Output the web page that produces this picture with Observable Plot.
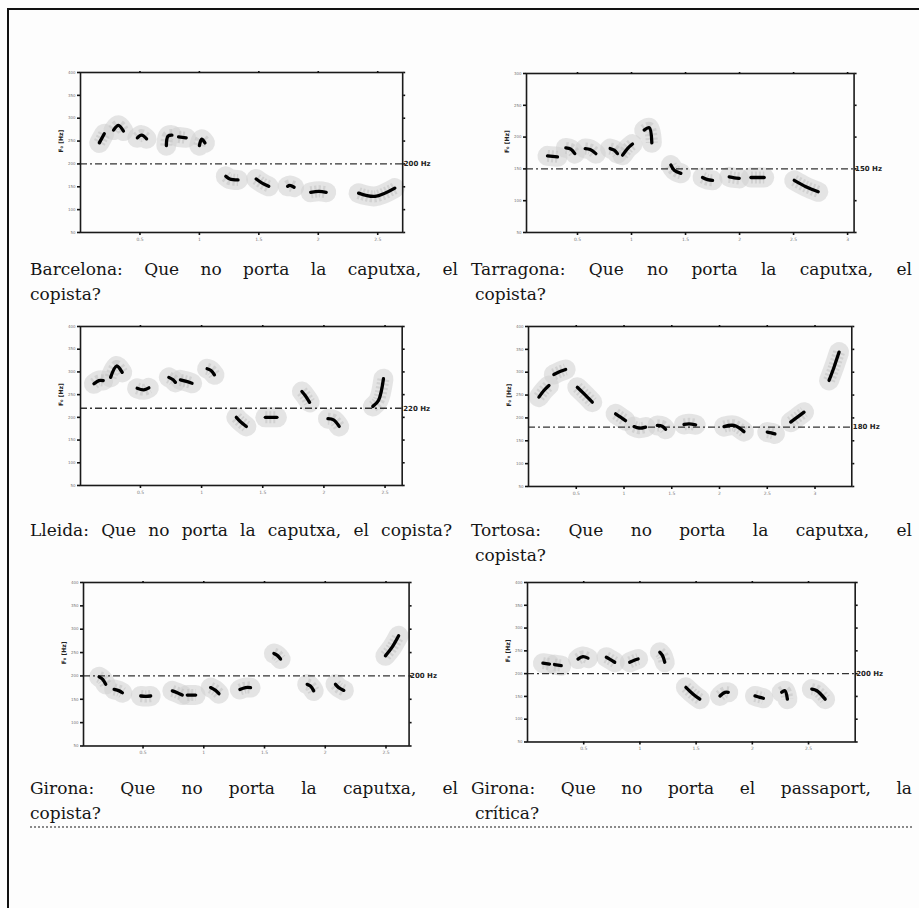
<!DOCTYPE html>
<html>
<head>
<meta charset="utf-8">
<script src="https://cdn.jsdelivr.net/npm/d3@7"></script>
<script src="https://cdn.jsdelivr.net/npm/@observablehq/plot@0.6"></script>
<style>
  html, body { margin: 0; padding: 0; background: #fdfdfd; }
  #page { position: relative; width: 919px; height: 908px; overflow: hidden; background: #fdfdfd; }
  .cap { position: absolute; font-family: "DejaVu Serif", "Liberation Serif", serif; font-size: 17px;
         line-height: 20px; color: #151515; white-space: normal; }
  .just { text-align: justify; text-align-last: justify; }
  .chart { position: absolute; }
</style>
</head>
<body>
<div id="page"></div>
<script>
// ---------------- data (time in s, F0 in Hz) ----------------
const xTicks5 = [0.5, 1, 1.5, 2, 2.5];
const xTicks6 = [0.5, 1, 1.5, 2, 2.5, 3];
const yTicks400 = [50, 100, 150, 200, 250, 300, 350, 400];
const yTicks300 = [50, 100, 150, 200, 250, 300];

const barcelonaContours = [
  [[0.158,246],[0.20,266]],
  [[0.278,274],[0.319,284.5],[0.361,272]],
  [[0.478,257],[0.514,263],[0.556,255]],
  [[0.722,240],[0.736,261],[0.769,263]],
  [[0.825,259],[0.889,257]],
  [[1.0,240],[1.019,254],[1.047,246]],
  [[1.222,173],[1.256,167],[1.325,165]],
  [[1.478,167],[1.528,158],[1.583,151]],
  [[1.742,151],[1.761,153],[1.797,149]],
  [[1.936,138],[2.006,140],[2.067,138]],
  [[2.339,136],[2.478,129],[2.644,147]]
];
const tarragonaContours = [
  [[0.222,170.5],[0.315,169]],
  [[0.392,183],[0.438,181],[0.475,174]],
  [[0.571,182],[0.617,180.5],[0.670,174]],
  [[0.802,182],[0.840,179.5],[0.870,174]],
  [[0.917,171.6],[0.963,182],[1.009,189]],
  [[1.117,211],[1.164,214.6],[1.188,191]],
  [[1.364,156],[1.395,148],[1.457,143]],
  [[1.657,136.5],[1.704,133],[1.75,132]],
  [[1.904,137.5],[1.951,136],[1.997,135]],
  [[2.105,136.5],[2.228,136.5]],
  [[2.506,132],[2.614,122],[2.728,114]]
];
const lleidaContours = [
  [[0.12,274],[0.16,281],[0.196,281]],
  [[0.256,288],[0.305,313],[0.351,299]],
  [[0.473,264],[0.528,260.5],[0.569,265]],
  [[0.732,288],[0.767,282.6],[0.786,277]],
  [[0.827,282.6],[0.868,279.6],[0.922,275]],
  [[1.045,307],[1.077,303],[1.105,293.6]],
  [[1.284,200],[1.316,191],[1.366,180]],
  [[1.521,200],[1.616,200]],
  [[1.82,257],[1.847,248],[1.883,233]],
  [[2.033,197],[2.079,194.5],[2.125,180]],
  [[2.4,224],[2.446,237],[2.487,285]]
];
const tortosaContours = [
  [[0.109,245.5],[0.161,260],[0.214,271]],
  [[0.265,295],[0.336,302],[0.389,306]],
  [[0.511,267],[0.58,253],[0.668,234.5]],
  [[0.912,209],[0.964,201.7],[1.016,194]],
  [[1.105,181],[1.158,177.6],[1.226,180]],
  [[1.349,183.5],[1.4,182],[1.435,175]],
  [[1.628,185.7],[1.68,187],[1.75,185]],
  [[2.047,181],[2.151,183.5],[2.256,170]],
  [[2.5,169],[2.542,167.4],[2.58,165]],
  [[2.745,190.8],[2.815,201.7],[2.885,212.6]],
  [[3.147,282],[3.199,311],[3.252,344]]
];
const gironaCaputxaContours = [
  [[0.138,198],[0.166,193],[0.193,182]],
  [[0.262,171],[0.304,168],[0.33,164]],
  [[0.481,157],[0.522,156],[0.563,157]],
  [[0.741,168],[0.782,164],[0.823,159]],
  [[0.864,159],[0.933,159]],
  [[1.056,175],[1.097,169],[1.125,162]],
  [[1.297,171],[1.344,175],[1.385,175]],
  [[1.577,248],[1.605,244],[1.632,236]],
  [[1.851,182],[1.878,178.6],[1.905,168]],
  [[2.084,182],[2.111,175],[2.153,169]],
  [[2.495,243],[2.549,261],[2.604,286]]
];
const gironaPassaportContours = [
  [[0.137,223],[0.196,221]],
  [[0.24,220],[0.3,217.6]],
  [[0.449,232],[0.493,237.5],[0.538,234]],
  [[0.701,236],[0.731,232],[0.776,225]],
  [[0.909,225],[0.945,228.7],[0.984,232]],
  [[1.177,247],[1.2,240],[1.221,225]],
  [[1.409,170],[1.474,155],[1.533,144]],
  [[1.712,151],[1.756,159],[1.786,159]],
  [[2.024,151],[2.068,148],[2.098,146]],
  [[2.261,159],[2.29,162.5],[2.312,144]],
  [[2.529,166],[2.574,162.5],[2.648,144]]
];

const refHz = [200, 150, 220, 180, 200, 200];
const refLabels = ["200 Hz", "150 Hz", "220 Hz", "180 Hz", "200 Hz", "200 Hz"];
const xDomains = [[0, 2.71], [0.028, 3.06], [0.01, 2.64], [0, 3.385], [0.01, 2.69], [0, 2.915]];
const yDomains = [[50, 400], [50, 300], [50, 400], [50, 400], [50, 400], [50, 400]];
const captionLines = [
  ["Barcelona: Que no porta la caputxa, el", "copista?"],
  ["Tarragona: Que no porta la caputxa, el", "copista?"],
  ["Lleida: Que no porta la caputxa, el copista?"],
  ["Tortosa: Que no porta la caputxa, el", "copista?"],
  ["Girona: Que no porta la caputxa, el", "copista?"],
  ["Girona: Que no porta el passaport, la", "crítica?"]
];
const yLabel = "F\u2080 [Hz]";

const panels = [
  {contours: barcelonaContours, xTicks: xTicks5, yTicks: yTicks400},
  {contours: tarragonaContours, xTicks: xTicks6, yTicks: yTicks300},
  {contours: lleidaContours, xTicks: xTicks5, yTicks: yTicks400},
  {contours: tortosaContours, xTicks: xTicks6, yTicks: yTicks400},
  {contours: gironaCaputxaContours, xTicks: xTicks5, yTicks: yTicks400},
  {contours: gironaPassaportContours, xTicks: xTicks5, yTicks: yTicks400}
].map((p, i) => ({...p, ref: refHz[i], refLabel: refLabels[i], xDomain: xDomains[i], yDomain: yDomains[i], caption: captionLines[i]}));

// ---------------- layout (page px) ----------------
const frames = [
  {x: 79.5, y: 72.3, w: 322.2, h: 160},
  {x: 525.7, y: 73.3, w: 327.6, h: 159},
  {x: 80, y: 326, w: 321.7, h: 159},
  {x: 527.7, y: 326, w: 323.3, h: 160},
  {x: 82.7, y: 581.5, w: 325.6, h: 163.5},
  {x: 527.3, y: 581.5, w: 327.7, h: 159.5}
];
const capBoxes = [
  {x: 30, w: 428, base: 275, x2: 30},
  {x: 471, w: 441, base: 275, x2: 475},
  {x: 30, w: 422, base: 536, x2: 30},
  {x: 471, w: 441, base: 536, x2: 475},
  {x: 30, w: 428, base: 794, x2: 30},
  {x: 471, w: 441, base: 794, x2: 475}
];
const M = {l: 30, r: 36, t: 6, b: 14};

const page = document.getElementById("page");

function addDiv(style, cls, text) {
  const d = document.createElement("div");
  if (cls) d.className = cls;
  Object.assign(d.style, style);
  if (text != null) d.textContent = text;
  page.appendChild(d);
  return d;
}

// outer border (top + left) and the rule under the captions
addDiv({position: "absolute", left: "7px", top: "8px", width: "912px", height: "2px", background: "#111"});
addDiv({position: "absolute", left: "7px", top: "8px", width: "2.4px", height: "900px", background: "#111"});
addDiv({position: "absolute", left: "30px", top: "826px", width: "882px", height: "0", borderTop: "2px dotted #8a8a8a"});

panels.forEach((p, i) => {
  const F = frames[i];
  const rows = p.contours.flatMap((seg, k) => seg.map(([t, f]) => ({t, f, seg: k})));
  const svg = Plot.plot({
    width: F.w + M.l + M.r,
    height: F.h + M.t + M.b,
    marginLeft: M.l, marginRight: M.r, marginTop: M.t, marginBottom: M.b,
    x: {domain: p.xDomain, label: null},
    y: {domain: p.yDomain, label: null},
    style: {background: "transparent", fontFamily: "DejaVu Sans", color: "#111", overflow: "visible"},
    marks: [
      Plot.line(rows, {x: "t", y: "f", z: "seg", stroke: "#cfcfcf", strokeOpacity: 0.55, strokeWidth: 20,
                       curve: "catmull-rom", strokeLinecap: "round", strokeLinejoin: "round"}),
      Plot.line(rows, {x: "t", y: "f", z: "seg", stroke: "#bdbdbd", strokeOpacity: 0.5, strokeWidth: 12,
                       strokeDasharray: "2,2", curve: "catmull-rom", strokeLinecap: "butt", strokeLinejoin: "round"}),
      Plot.ruleY([p.ref], {stroke: "#333", strokeWidth: 1.3, strokeDasharray: "7,3,2,3"}),
      Plot.line(rows, {x: "t", y: "f", z: "seg", stroke: "#000", strokeWidth: 3.3,
                       curve: "catmull-rom", strokeLinecap: "round", strokeLinejoin: "round"}),
      Plot.frame({stroke: "#1a1a1a", strokeWidth: 1.6}),
      Plot.axisX({ticks: p.xTicks, anchor: "bottom", tickSize: 3, tickPadding: 2, fontSize: 4.5, strokeWidth: 1.6, fill: "#777", tickFormat: d => String(d)}),
      Plot.axisX({ticks: p.xTicks, anchor: "top", tickSize: 2, strokeWidth: 1.6, tickFormat: () => ""}),
      Plot.axisY({ticks: p.yTicks, anchor: "left", tickSize: 3, tickPadding: 2, fontSize: 4, strokeWidth: 1.6, fill: "#777", tickFormat: d => String(d)}),
      Plot.axisY({ticks: p.yTicks, anchor: "right", tickSize: 2, strokeWidth: 1.6, tickFormat: () => ""}),
      Plot.text([yLabel], {frameAnchor: "left", rotate: -90, dx: -19, fontSize: 6, fontWeight: "bold", fill: "#222"}),
      Plot.text([{f: p.ref, label: p.refLabel}], {y: "f", text: "label", frameAnchor: "right", textAnchor: "start",
                 dx: 1, fontSize: 7, fontWeight: "bold", fill: "#222"})
    ]
  });
  svg.classList.add("chart");
  svg.style.left = (F.x - M.l) + "px";
  svg.style.top = (F.y - M.t) + "px";
  page.appendChild(svg);

  const C = capBoxes[i];
  const lines = p.caption;
  lines.forEach((line, j) => {
    const isLast = j === lines.length - 1;
    const justify = !isLast || lines.length === 1;
    const left = (j === 0) ? C.x : C.x2;
    addDiv({left: left + "px", top: (C.base + j * 25 - 16) + "px", width: (C.w - (left - C.x)) + "px"},
           "cap" + (justify ? " just" : ""), line);
  });
});
</script>
</body>
</html>
